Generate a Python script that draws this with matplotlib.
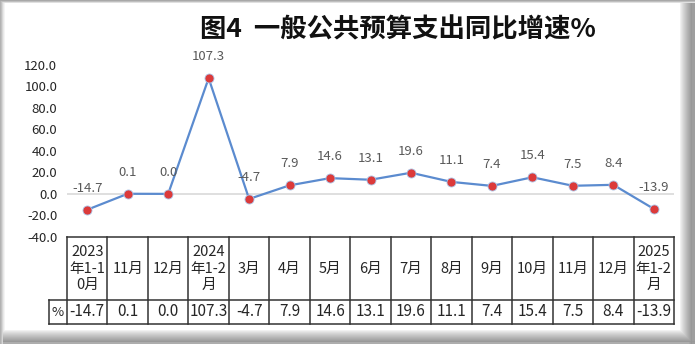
import numpy as np
import matplotlib
matplotlib.use("Agg")
import matplotlib.pyplot as plt
from matplotlib.lines import Line2D

plt.rcParams['font.family'] = ['Noto Sans CJK SC', 'DejaVu Sans']

# ---- data ----
periods = ["2023\n年1-1\n0月", "11月", "12月", "2024\n年1-2\n月", "3月", "4月", "5月",
           "6月", "7月", "8月", "9月", "10月", "11月", "12月", "2025\n年1-2\n月"]
growth = [-14.7, 0.1, 0.0, 107.3, -4.7, 7.9, 14.6, 13.1, 19.6, 11.1, 7.4, 15.4, 7.5, 8.4, -13.9]
row_label = "%"
title = "图4  一般公共预算支出同比增速%"
yticks = [-40, -20, 0, 20, 40, 60, 80, 100, 120]

W, H = 695, 344
fig = plt.figure(figsize=(W / 100, H / 100), dpi=100)
fig.patch.set_facecolor("white")


def fx(px):
    return px / W


def fy(py):
    return 1 - py / H


# ---- shaded frame around the chart ----
bg = np.ones((H, W))
left_shade = [0.70, 0.76, 0.84, 0.91, 0.96]
for i, v in enumerate(left_shade):
    bg[:, i] = np.minimum(bg[:, i], v)
top_shade = [0.66, 0.75, 0.88]
for i, v in enumerate(top_shade):
    bg[i, :] = np.minimum(bg[i, :], v)
right_start = 679
for c in range(right_start, W):
    t = (c - right_start) / (W - 1 - right_start)
    v = 1.0 - 0.48 * t ** 0.8 if c < W - 3 else 0.62
    bg[3:, c] = np.minimum(bg[3:, c], v)
bottom_start = 329
for r in range(bottom_start, H):
    t = (r - bottom_start) / (H - 1 - bottom_start)
    v = 1.0 - 0.45 * t ** 0.8 if r < H - 2 else 0.68
    bg[r, 3:] = np.minimum(bg[r, 3:], v)
bax = fig.add_axes([0, 0, 1, 1], zorder=-10)
bax.imshow(np.dstack([bg, bg, bg]), aspect="auto", interpolation="bilinear")
bax.set_axis_off()

# ---- plot area ----
x_left, x_right, y_top, y_bot = 67, 674, 64.5, 237
ax = fig.add_axes([fx(x_left), fy(y_bot), fx(x_right) - fx(x_left), fy(y_top) - fy(y_bot)])
ax.set_facecolor("none")
x = np.arange(len(growth))
ax.set_xlim(-0.5, len(growth) - 0.5)
ax.set_ylim(yticks[0], yticks[-1])
ax.axhline(0, color="#D9D9D9", lw=1.2, zorder=1)
ax.plot(x, growth, color="#5B8BCF", lw=1.6, zorder=2,
        marker="o", ms=6.5, mfc="#DC3A3A", mec="#A9C2E6", mew=0.6)
for xi, v in zip(x, growth):
    ax.annotate(f"{v:.1f}", (xi, v), xytext=(0, 15.5), textcoords="offset points",
                ha="center", va="center", fontsize=9.5, color="#595959")
ax.set_yticks(yticks)
ax.set_yticklabels([f"{t:.1f}" for t in yticks], fontsize=9.5, color="#262626")
ax.tick_params(axis="y", length=0, pad=7)
ax.set_xticks([])
for s in ax.spines.values():
    s.set_visible(False)

fig.text(fx(398), fy(30), title, ha="center", va="center",
         fontsize=19, fontweight="bold", color="#111111")

# ---- data table under the plot ----
n = len(periods)
col_w = (x_right - x_left) / n
row_mid = 300
row_bot = 324
pct_left = 49
lc = "#333333"
lw = 1.1


def hline(py, x0, x1):
    fig.add_artist(Line2D([fx(x0), fx(x1)], [fy(py), fy(py)], color=lc, lw=lw))


def vline(px, y0, y1):
    fig.add_artist(Line2D([fx(px), fx(px)], [fy(y0), fy(y1)], color=lc, lw=lw))


hline(y_bot, x_left, x_right)
hline(row_mid, pct_left, x_right)
hline(row_bot, pct_left, x_right)
for i in range(n + 1):
    vline(x_left + i * col_w, y_bot, row_bot)
vline(pct_left, row_mid, row_bot)

for i, (lab, v) in enumerate(zip(periods, growth)):
    cx = x_left + (i + 0.5) * col_w
    fig.text(fx(cx), fy((y_bot + row_mid) / 2), lab, ha="center", va="center",
             fontsize=10.5, color="#262626", linespacing=1.2)
    fig.text(fx(cx), fy((row_mid + row_bot) / 2), f"{v:.1f}", ha="center", va="center",
             fontsize=11, color="#262626")
fig.text(fx((pct_left + x_left) / 2), fy((row_mid + row_bot) / 2), row_label,
         ha="center", va="center", fontsize=9.5, color="#262626")

fig.savefig("out.png", dpi=100)
